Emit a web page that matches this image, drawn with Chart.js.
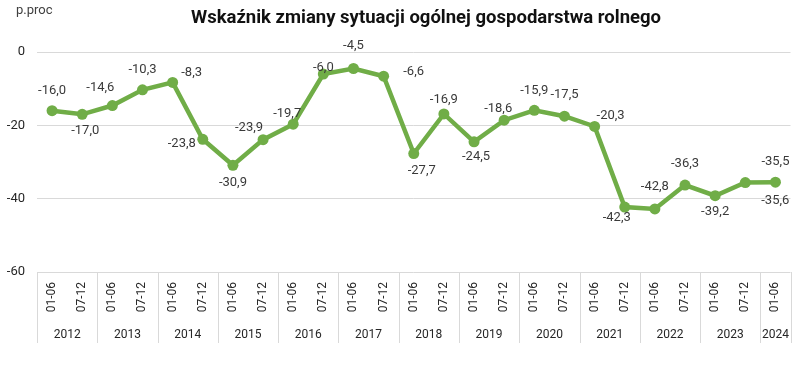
<!DOCTYPE html>
<html><head><meta charset="utf-8">
<script src="https://cdn.jsdelivr.net/npm/chart.js@4/dist/chart.umd.min.js"></script>
<style>html,body{margin:0;padding:0;background:#fff;}canvas{display:block;}</style>
</head><body>
<canvas id="c" width="800" height="366"></canvas>
<script>
const years = ['2012','2013','2014','2015','2016','2017','2018','2019','2020','2021','2022','2023','2024'];
const halves = ['01-06','07-12'];
const values = [-16.0,-17.0,-14.6,-10.3,-8.3,-23.8,-30.9,-23.9,-19.7,-6.0,-4.5,-6.6,-27.7,-16.9,-24.5,-18.6,-15.9,-17.5,-20.3,-42.3,-42.8,-36.3,-39.2,-35.6,-35.5];
const yMin = -60, yMax = 0, yStep = 20;
const title = 'Wskaźnik zmiany sytuacji ogólnej gospodarstwa rolnego';
const unitLabel = 'p.proc';
// label offsets (dx, dy) relative to each point
const labelOffsets = [[0,-20],[3,16],[-12,-18],[0,-20],[19,-10],[-21,4],[0,17],[-14,-12],[-6,-10],[0,-6],[0,-23],[30,-4],[8,17],[0,-14],[2,15],[-6,-11],[0,-20],[0,-21],[16,-11],[-8,11],[0,-22],[0,-21],[0,16],[30,18],[0,-20]];

const cats = years.flatMap(y => halves.map(h => ({year:y, half:h}))).slice(0, values.length);
const labels = cats.map(c => c.half);

const FONT = 'Roboto';
const GREEN = '#70ad47';
const GRID = '#d9d9d9';

const decor = {
  id: 'decor',
  afterDatasetsDraw(chart) {
    const ctx = chart.ctx;
    const meta = chart.getDatasetMeta(0);
    ctx.save();
    ctx.font = '13px ' + FONT;
    ctx.fillStyle = '#3a3a3a';
    ctx.textAlign = 'center';
    ctx.textBaseline = 'middle';
    meta.data.forEach((pt, i) => {
      const o = labelOffsets[i] || [0,-20];
      ctx.fillText(values[i].toFixed(1).replace('.', ','), pt.x + o[0], pt.y + o[1]);
    });
    ctx.restore();
  },
  afterDraw(chart) {
    const ctx = chart.ctx;
    const xs = chart.scales.x;
    const area = chart.chartArea;
    const half = (xs.getPixelForValue(1) - xs.getPixelForValue(0)) / 2;
    ctx.save();
    ctx.strokeStyle = GRID;
    ctx.lineWidth = 1;
    ctx.font = '12px ' + FONT;
    ctx.fillStyle = '#262626';
    ctx.textAlign = 'center';
    ctx.textBaseline = 'middle';
    const groups = [];
    cats.forEach((c, i) => {
      const g = groups[groups.length - 1];
      if (g && g.year === c.year) g.last = i; else groups.push({year:c.year, first:i, last:i});
    });
    const bottom = area.bottom + 71;
    const drawV = x => { ctx.beginPath(); ctx.moveTo(Math.round(x)+0.5, area.bottom); ctx.lineTo(Math.round(x)+0.5, bottom); ctx.stroke(); };
    groups.forEach(g => {
      const l = xs.getPixelForValue(g.first) - half;
      const r = xs.getPixelForValue(g.last) + half;
      drawV(l);
      ctx.fillText(g.year, (l + r) / 2, area.bottom + 63);
    });
    drawV(xs.getPixelForValue(cats.length - 1) + half);
    ctx.textAlign = 'center';
    ctx.textBaseline = 'alphabetic';
    ctx.fillStyle = '#111111';
    ctx.font = 'bold 18.5px ' + FONT;
    ctx.fillText(title, 426, 23);
    ctx.textAlign = 'left';
    ctx.fillStyle = '#404040';
    ctx.font = '13px ' + FONT;
    ctx.fillText(unitLabel, 16, 14);
    ctx.restore();
  }
};

new Chart(document.getElementById('c'), {
  type: 'line',
  data: {
    labels: labels,
    datasets: [{
      data: values,
      borderColor: GREEN,
      backgroundColor: GREEN,
      borderWidth: 4.5,
      pointRadius: 5.5,
      pointBackgroundColor: GREEN,
      pointBorderColor: GREEN,
      pointBorderWidth: 0,
      tension: 0,
      fill: false
    }]
  },
  options: {
    responsive: false,
    devicePixelRatio: 1,
    animation: false,
    layout: { padding: { top: 52, right: 8, left: 0, bottom: 0 } },
    plugins: { legend: { display: false }, title: { display: false }, tooltip: { enabled: false } },
    scales: {
      x: {
        type: 'category',
        offset: true,
        grid: { display: false, drawTicks: false },
        border: { display: false },
        ticks: {
          autoSkip: false, minRotation: 90, maxRotation: 90,
          font: { family: FONT, size: 12 }, color: '#262626', padding: 10
        },
        afterFit(s) { s.height = 94; }
      },
      y: {
        min: yMin, max: yMax,
        grid: { color: GRID, lineWidth: 1, drawTicks: false },
        border: { display: false },
        ticks: { stepSize: yStep, font: { family: FONT, size: 13 }, color: '#262626', padding: 12 },
        afterFit(s) { s.width = 37; }
      }
    }
  },
  plugins: [decor]
});
</script>
</body></html>
